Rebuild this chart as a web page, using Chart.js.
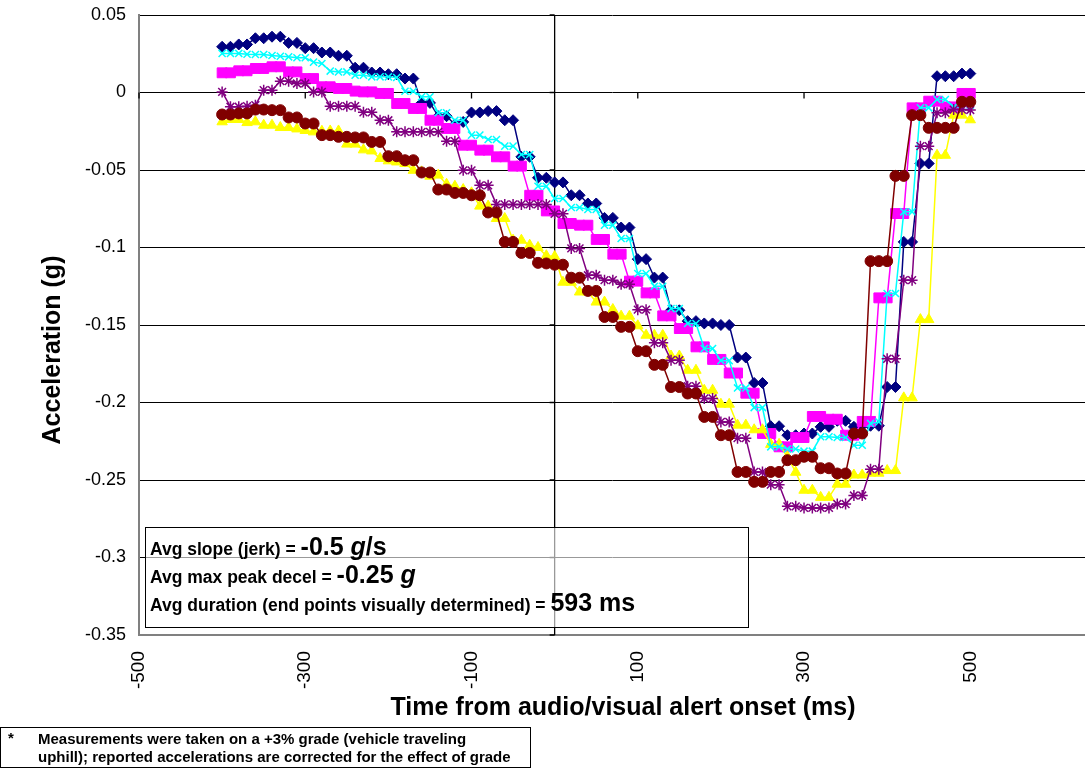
<!DOCTYPE html>
<html>
<head>
<meta charset="utf-8">
<title>Acceleration after audio/visual alert</title>
<script src="https://cdn.jsdelivr.net/npm/chart.js@4.4.1/dist/chart.umd.min.js"></script>
<style>
  html, body { margin: 0; padding: 0; background: #fff; }
  #chart { display: block; }
</style>
</head>
<body>
<canvas id="chart" width="1085" height="768"></canvas>
<script>
//time from alert onset (ms), one sample every 10 ms
const timeMs = [
  -400, -390, -380, -370, -360, -350, -340, -330, -320, -310,
  -300, -290, -280, -270, -260, -250, -240, -230, -220, -210,
  -200, -190, -180, -170, -160, -150, -140, -130, -120, -110,
  -100, -90, -80, -70, -60, -50, -40, -30, -20, -10,
  0, 10, 20, 30, 40, 50, 60, 70, 80, 90,
  100, 110, 120, 130, 140, 150, 160, 170, 180, 190,
  200, 210, 220, 230, 240, 250, 260, 270, 280, 290,
  300, 310, 320, 330, 340, 350, 360, 370, 380, 390,
  400, 410, 420, 430, 440, 450, 460, 470, 480, 490, 500
];

//acceleration (g) per run
const navyRun = [
  0.0295, 0.0295, 0.031, 0.031, 0.035, 0.035, 0.036, 0.036, 0.032, 0.032,
  0.0286, 0.0286, 0.0258, 0.0258, 0.0237, 0.0237, 0.016, 0.016, 0.0129, 0.0129,
  0.0118, 0.0118, 0.009, 0.009, -0.0067, -0.0067, -0.0153, -0.0153, -0.0206, -0.019,
  -0.0129, -0.0129, -0.012, -0.012, -0.0179, -0.0179, -0.0415, -0.0415, -0.055, -0.055,
  -0.058, -0.058, -0.0663, -0.0663, -0.0716, -0.0716, -0.0809, -0.0809, -0.0871, -0.0871,
  -0.1075, -0.1075, -0.1194, -0.1194, -0.1405, -0.1405, -0.1475, -0.1475, -0.149, -0.149,
  -0.15, -0.15, -0.171, -0.171, -0.1874, -0.1874, -0.2153, -0.2153, -0.2211, -0.2211,
  -0.22, -0.22, -0.2157, -0.2157, -0.2118, -0.2118, -0.2157, -0.215, -0.215, -0.215,
  -0.19, -0.19, -0.0964, -0.0964, -0.0458, -0.0458, 0.0105, 0.0105, 0.0105, 0.0122, 0.0122
];
const magentaRun = [
  0.0127, 0.0127, 0.014, 0.014, 0.0155, 0.0155, 0.0166, 0.0166, 0.0133, 0.0133,
  0.009, 0.009, 0.0037, 0.0037, 0.0026, 0.0026, 0.0009, 0.0004, 0.0004, -0.0006,
  -0.0006, -0.0071, -0.0071, -0.0103, -0.0103, -0.0179, -0.0179, -0.0232, -0.0232, -0.034,
  -0.034, -0.0372, -0.0372, -0.0415, -0.0415, -0.0475, -0.0475, -0.0663, -0.0663, -0.0764,
  -0.0764, -0.0845, -0.0845, -0.0856, -0.0856, -0.0948, -0.0948, -0.1043, -0.1043, -0.1217,
  -0.1217, -0.1293, -0.1293, -0.1441, -0.1441, -0.1523, -0.1523, -0.1641, -0.1641, -0.1722,
  -0.1722, -0.181, -0.181, -0.194, -0.194, -0.22, -0.22, -0.2286, -0.2286, -0.2226,
  -0.2226, -0.209, -0.209, -0.2108, -0.2108, -0.2211, -0.2211, -0.2122, -0.2122, -0.1325,
  -0.1325, -0.0781, -0.0781, -0.0099, -0.0099, -0.0056, -0.0056, -0.0093, -0.0093, -0.0006, -0.0006
];
const yellowRun = [
  -0.0189, -0.0174, -0.0174, -0.0194, -0.0189, -0.0211, -0.0211, -0.0226, -0.0226, -0.0235,
  -0.0245, -0.0254, -0.025, -0.0248, -0.0248, -0.0333, -0.0333, -0.037, -0.0377, -0.0426,
  -0.0441, -0.0448, -0.0458, -0.0502, -0.0512, -0.054, -0.0533, -0.0592, -0.0605, -0.0626,
  -0.0647, -0.0733, -0.0733, -0.0813, -0.0813, -0.0953, -0.0953, -0.0985, -0.1, -0.1053,
  -0.1058, -0.1224, -0.1224, -0.1287, -0.1287, -0.1352, -0.1352, -0.14, -0.1443, -0.1443,
  -0.1505, -0.1566, -0.1566, -0.1566, -0.17, -0.17, -0.1792, -0.1792, -0.1921, -0.1921,
  -0.2011, -0.2011, -0.2146, -0.2146, -0.2176, -0.2176, -0.227, -0.227, -0.235, -0.245,
  -0.2566, -0.2566, -0.2612, -0.2612, -0.2527, -0.2527, -0.2468, -0.2468, -0.2456, -0.2456,
  -0.2439, -0.2439, -0.197, -0.197, -0.1465, -0.1465, -0.0405, -0.0405, -0.0146, -0.0146, -0.0176
];
const cyanRun = [
  0.0252, 0.0252, 0.0252, 0.0247, 0.0245, 0.0245, 0.0239, 0.0234, 0.023, 0.0224,
  0.0224, 0.0196, 0.0187, 0.0138, 0.0133, 0.0133, 0.0112, 0.0112, 0.0101, 0.0101,
  0.0101, 0.0097, 0.0008, 0.0008, -0.0028, -0.0028, -0.0131, -0.0131, -0.0179, -0.0179,
  -0.0275, -0.0275, -0.0303, -0.0303, -0.0346, -0.0346, -0.04, -0.04, -0.0605, -0.0605,
  -0.0684, -0.0684, -0.0742, -0.0742, -0.0755, -0.0755, -0.0856, -0.0856, -0.0942, -0.0942,
  -0.1168, -0.1168, -0.125, -0.125, -0.1394, -0.1394, -0.149, -0.149, -0.1652, -0.1652,
  -0.173, -0.173, -0.1906, -0.1906, -0.2033, -0.2033, -0.2286, -0.2286, -0.23, -0.23,
  -0.2314, -0.2314, -0.2221, -0.2221, -0.2226, -0.2226, -0.2276, -0.2276, -0.2135, -0.2125,
  -0.1297, -0.1297, -0.077, -0.077, -0.0099, -0.0099, -0.0045, -0.0045, -0.0093, -0.0093, -0.008
];
const purpleRun = [
  0.0004, -0.0092, -0.0092, -0.0088, -0.0082, 0.0015, 0.0015, 0.0073, 0.0073, 0.0058,
  0.0058, 0.0004, 0.0004, -0.0088, -0.0088, -0.0088, -0.0088, -0.0128, -0.0128, -0.0179,
  -0.0179, -0.0254, -0.0254, -0.0254, -0.0254, -0.0254, -0.0254, -0.0314, -0.0314, -0.0502,
  -0.0502, -0.0599, -0.0599, -0.0722, -0.0722, -0.0722, -0.0722, -0.0722, -0.0722, -0.0722,
  -0.0783, -0.0783, -0.1006, -0.1006, -0.1179, -0.1179, -0.1211, -0.1211, -0.1237, -0.1237,
  -0.1401, -0.1401, -0.1615, -0.1615, -0.1727, -0.1727, -0.1895, -0.1895, -0.1974, -0.1974,
  -0.2125, -0.2125, -0.223, -0.223, -0.2448, -0.2448, -0.253, -0.253, -0.267, -0.267,
  -0.268, -0.268, -0.268, -0.268, -0.2655, -0.2655, -0.26, -0.26, -0.243, -0.243,
  -0.1718, -0.1718, -0.1211, -0.1211, -0.0346, -0.0346, -0.0131, -0.0131, -0.011, -0.011, -0.0113
];
const maroonRun = [
  -0.0142, -0.0142, -0.0135, -0.0135, -0.011, -0.011, -0.0114, -0.0114, -0.0161, -0.0161,
  -0.02, -0.02, -0.0275, -0.0275, -0.0286, -0.0286, -0.029, -0.029, -0.0319, -0.0319,
  -0.0411, -0.0411, -0.0437, -0.0437, -0.0516, -0.0516, -0.0626, -0.0626, -0.0648, -0.0648,
  -0.0663, -0.0663, -0.0774, -0.0774, -0.0964, -0.0964, -0.1035, -0.1035, -0.1099, -0.1103,
  -0.1111, -0.1111, -0.1195, -0.1195, -0.128, -0.128, -0.1448, -0.1448, -0.1512, -0.1512,
  -0.1669, -0.1669, -0.1757, -0.1757, -0.19, -0.19, -0.1942, -0.1942, -0.2093, -0.2093,
  -0.2211, -0.2211, -0.2448, -0.2448, -0.2512, -0.2512, -0.2448, -0.2448, -0.2372, -0.2372,
  -0.235, -0.235, -0.2424, -0.2424, -0.2458, -0.2458, -0.22, -0.22, -0.1088, -0.1088,
  -0.1088, -0.0538, -0.0538, -0.0146, -0.0146, -0.0228, -0.0228, -0.0228, -0.0228, -0.006, -0.006
];

//axis ticks
const xTickValues = [-500, -300, -100, 100, 300, 500];
const yTickStep = 0.05;

//text box + footnote
const statLabels = ["Avg slope (jerk) = ", "Avg max peak decel = ", "Avg duration (end points visually determined) = "];
const statValues = ["-0.5 ", "-0.25 ", "593 ms"];
const statUnits = ["g", "g", ""];
const statTails = ["/s", "", ""];
const footnoteLines = [
  "Measurements were taken on a +3% grade (vehicle traveling",
  "uphill); reported accelerations are corrected for the effect of grade"
];

const FONT = '"Liberation Sans", Arial, sans-serif';

function makeSeries(values, color, style, radius, order) {
  const crossy = style === "crossRot" || style === "star";
  return {
    data: timeMs.map((t, i) => ({ x: t, y: values[i] })),
    borderColor: color,
    backgroundColor: color,
    borderWidth: 1.5,
    pointStyle: style,
    pointRadius: radius,
    pointBorderColor: color,
    pointBackgroundColor: crossy ? "transparent" : color,
    pointBorderWidth: crossy ? 1.5 : 1,
    tension: 0,
    order: order,
  };
}

const overlay = {
  id: "overlay",
  beforeDatasetsDraw(chart) {
    const { ctx, chartArea, scales } = chart;
    const x0 = scales.x.getPixelForValue(0);
    const y0 = scales.y.getPixelForValue(0);
    ctx.save();
    ctx.strokeStyle = "#000";
    ctx.lineWidth = 1.3;
    ctx.beginPath();
    ctx.moveTo(x0, chartArea.top);
    ctx.lineTo(x0, chartArea.bottom);
    scales.y.ticks.forEach((t) => {
      const py = scales.y.getPixelForValue(t.value);
      ctx.moveTo(x0 - 5, py);
      ctx.lineTo(x0, py);
    });
    xTickValues.forEach((v) => {
      const px = scales.x.getPixelForValue(v);
      ctx.moveTo(px, y0);
      ctx.lineTo(px, y0 + 6);
    });
    ctx.stroke();
    ctx.restore();
  },
  afterDraw(chart) {
    const ctx = chart.ctx;
    ctx.save();
    ctx.fillStyle = "#000";

    //axis titles
    ctx.font = "bold 25px " + FONT;
    ctx.textAlign = "center";
    ctx.textBaseline = "middle";
    ctx.fillText("Time from audio/visual alert onset (ms)", 623, 708);
    ctx.save();
    ctx.translate(53, 350);
    ctx.rotate(-Math.PI / 2);
    ctx.fillText("Acceleration (g)", 0, 0);
    ctx.restore();

    //stats box
    ctx.fillStyle = "rgba(255,255,255,0.6)";
    ctx.fillRect(145, 527, 603, 100);
    ctx.strokeStyle = "#000";
    ctx.lineWidth = 1;
    ctx.strokeRect(145.5, 527.5, 603, 100);
    ctx.fillStyle = "#000";
    ctx.textAlign = "left";
    ctx.textBaseline = "alphabetic";
    const baselines = [555, 583, 611];
    statLabels.forEach((label, i) => {
      let px = 150;
      ctx.font = "bold 17.5px " + FONT;
      ctx.fillText(label, px, baselines[i]);
      px += ctx.measureText(label).width;
      ctx.font = "bold 25px " + FONT;
      ctx.fillText(statValues[i], px, baselines[i]);
      px += ctx.measureText(statValues[i]).width;
      ctx.font = "italic bold 25px " + FONT;
      ctx.fillText(statUnits[i], px, baselines[i]);
      px += ctx.measureText(statUnits[i]).width;
      ctx.font = "bold 25px " + FONT;
      ctx.fillText(statTails[i], px, baselines[i]);
    });

    //footnote
    ctx.strokeRect(0.5, 727.5, 530, 40);
    ctx.font = "bold 15px " + FONT;
    ctx.fillText("*", 8, 743);
    ctx.fillText(footnoteLines[0], 38, 744);
    ctx.fillText(footnoteLines[1], 38, 762);
    ctx.restore();
  },
};

const ctx = document.getElementById("chart").getContext("2d");
new Chart(ctx, {
  type: "line",
  data: {
    datasets: [
      makeSeries(navyRun, "#000080", "rectRot", 5.5, 6),
      makeSeries(magentaRun, "#FF00FF", "rect", 7, 5),
      makeSeries(yellowRun, "#FFFF00", "triangle", 6, 4),
      makeSeries(cyanRun, "#00FFFF", "crossRot", 5, 3),
      makeSeries(purpleRun, "#800080", "star", 5.5, 2),
      makeSeries(maroonRun, "#800000", "circle", 5.5, 1),
    ],
  },
  options: {
    responsive: false,
    animation: false,
    devicePixelRatio: 1,
    layout: { autoPadding: false, padding: { top: 15, right: 0, bottom: 0, left: 0 } },
    plugins: { legend: { display: false }, tooltip: { enabled: false } },
    scales: {
      x: {
        type: "linear",
        min: -500,
        max: 638,
        afterBuildTicks: (scale) => {
          scale.ticks = xTickValues.map((v) => ({ value: v }));
        },
        afterFit: (scale) => {
          scale.height = 133;
          scale.paddingLeft = 0;
          scale.paddingRight = 0;
        },
        grid: { color: "transparent", drawTicks: false },
        border: { display: true, color: "#808080", width: 2 },
        ticks: {
          autoSkip: false,
          minRotation: 90,
          maxRotation: 90,
          padding: 16,
          color: "#000",
          font: { family: FONT, size: 19 },
        },
      },
      y: {
        min: -0.35,
        max: 0.05,
        afterFit: (scale) => {
          scale.width = 139;
          scale.paddingTop = 0;
          scale.paddingBottom = 0;
        },
        grid: { color: "#000", lineWidth: 1, drawTicks: false },
        border: { display: true, color: "#808080", width: 2 },
        ticks: {
          stepSize: yTickStep,
          padding: 13,
          color: "#000",
          font: { family: FONT, size: 18 },
          callback: (v) => String(Math.round(v * 100) / 100),
        },
      },
    },
  },
  plugins: [overlay],
});
</script>
</body>
</html>
